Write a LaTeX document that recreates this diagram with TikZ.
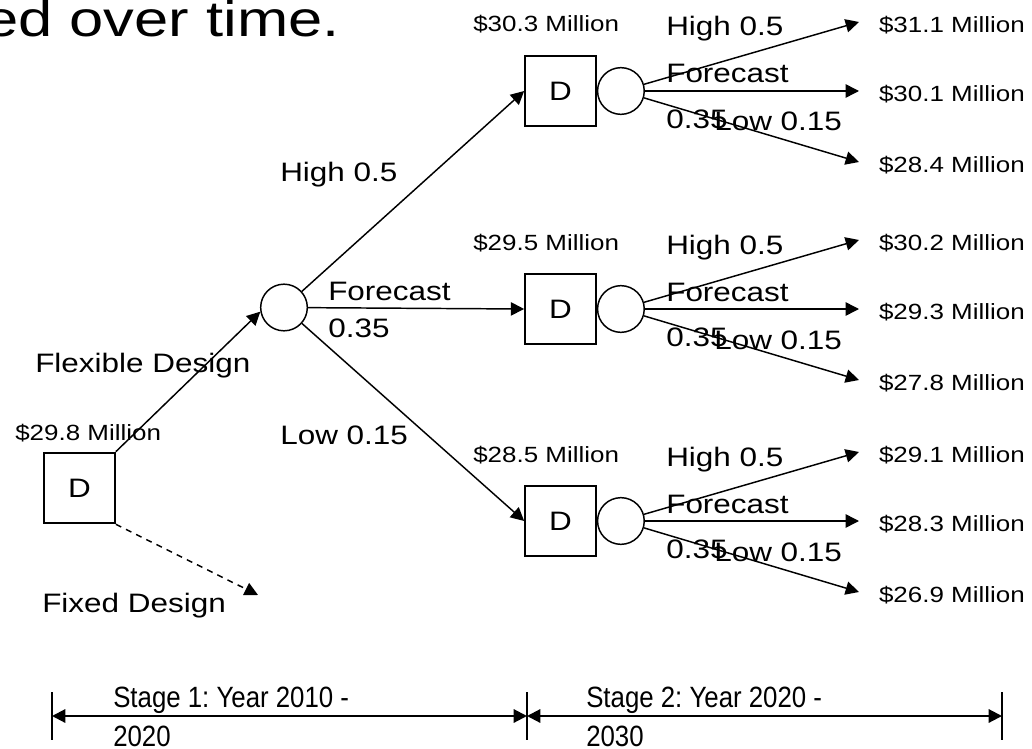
\documentclass[tikz,border=0pt]{standalone}
\usepackage{fontspec}
\setmainfont{Liberation Sans}[FakeStretch=1.18]
\newfontfamily\titlefont{Liberation Sans}[FakeStretch=1.23]
\newfontfamily\stagefont{Liberation Sans}[FakeStretch=0.88]
\usetikzlibrary{arrows.meta,positioning}
\tikzset{>={Triangle[length=10pt,width=10pt]}}
\frenchspacing

\begin{document}
\begin{tikzpicture}[x=0.75pt,y=-0.75pt,
  decision/.style={draw,line width=1.5pt,minimum width=53pt,minimum height=53pt,inner sep=0pt,font=\fontsize{20}{24}\selectfont},
  chance/.style={draw,circle,line width=1.1pt,minimum size=35pt,inner sep=0pt},
  lab/.style={anchor=base west,inner sep=0pt,font=\fontsize{20}{24}\selectfont},
  stagelab/.style={anchor=base west,inner sep=0pt,font=\stagefont\fontsize{22}{26}\selectfont},
  val/.style={anchor=base west,inner sep=0pt,font=\fontsize{16.5}{20}\selectfont},
  outcome/.style={anchor=west,inner sep=0pt,outer xsep=15pt,text height=16pt,text depth=0pt,font=\fontsize{16.5}{20}\selectfont},
  branch/.style={->,line width=1.1pt}]
\useasboundingbox (0,0) rectangle (1032,749);

% title (cut at the left)
\node[anchor=base east,inner sep=0pt,font=\titlefont\fontsize{37.5}{40}\selectfont] (title) at (340,37) {ed over time.};

% stage 1
\node[decision] (d1) at (79.5,488) {D};
\node[val] (v1) at (15,440) {\$29.8 Million};
\node[chance] (c1) at (284,307.5) {};
\coordinate (fx) at (258,595);
\draw[branch] (d1.north east) -- (c1.190);
\draw[branch,dash pattern=on 4.5pt off 4pt] (d1.south east) -- (fx);
\node[lab] (flex) at (35,372) {Flexible Design};
\node[lab] (fixed) at (42,612) {Fixed Design};

\node[decision] (d2a) at (560.5,91) {D};
\node[decision] (d2b) at (560.5,309) {D};
\node[decision] (d2c) at (560.5,521) {D};
\draw[branch] (c1) -- (d2a.west);
\draw[branch] (c1) -- (d2b.west);
\draw[branch] (c1) -- (d2c.west);
\node[lab] (h1) at (280,181) {High 0.5};
\node[lab] (f1) at (328,300) {Forecast};
\node[lab] (p1) at (328,337) {0.35};
\node[lab] (l1) at (280,444) {Low 0.15};

% stage 2
\node[chance,right=0pt of d2a] (c2a) {};
\node[chance,right=0pt of d2b] (c2b) {};
\node[chance,right=0pt of d2c] (c2c) {};

\node[outcome] (o1) at (859,22) {\$31.1 Million};
\node[outcome] (o2) at (859,91) {\$30.1 Million};
\node[outcome] (o3) at (859,162) {\$28.4 Million};
\node[outcome] (o4) at (859,240) {\$30.2 Million};
\node[outcome] (o5) at (859,309) {\$29.3 Million};
\node[outcome] (o6) at (859,380) {\$27.8 Million};
\node[outcome] (o7) at (859,452) {\$29.1 Million};
\node[outcome] (o8) at (859,521) {\$28.3 Million};
\node[outcome] (o9) at (859,592) {\$26.9 Million};

\draw[branch] (c2a) -- (o1.west);
\draw[branch] (c2a) -- (o2.west);
\draw[branch] (c2a) -- (o3.west);
\draw[branch] (c2b) -- (o4.west);
\draw[branch] (c2b) -- (o5.west);
\draw[branch] (c2b) -- (o6.west);
\draw[branch] (c2c) -- (o7.west);
\draw[branch] (c2c) -- (o8.west);
\draw[branch] (c2c) -- (o9.west);

\node[val] (v2a) at (473,32) {\$30.3 Million};
\node[lab] (h2a) at (666,36) {High 0.5};
\node[lab] (f2a) at (666,83) {Forecast};
\node[lab] (p2a) at (666,128) {0.35};
\node[lab] (l2a) at (714,131) {Low 0.15};

\node[val] (v2b) at (473,250) {\$29.5 Million};
\node[lab] (h2b) at (666,254) {High 0.5};
\node[lab] (f2b) at (666,301) {Forecast};
\node[lab] (p2b) at (666,346) {0.35};
\node[lab] (l2b) at (714,349) {Low 0.15};

\node[val] (v2c) at (473,462) {\$28.5 Million};
\node[lab] (h2c) at (666,466) {High 0.5};
\node[lab] (f2c) at (666,513) {Forecast};
\node[lab] (p2c) at (666,558) {0.35};
\node[lab] (l2c) at (714,561) {Low 0.15};

% time line
\coordinate (s0) at (52,716);
\coordinate (s1) at (527,716);
\coordinate (s2) at (1002,716);
\draw[line width=1.6pt,<->] (s0) -- (s1);
\draw[line width=1.6pt,<->] (s1) -- (s2);
\draw[line width=1.4pt] (s0) ++(0,-24) -- ++(0,48);
\draw[line width=1.4pt] (s1) ++(0,-24) -- ++(0,48);
\draw[line width=1.4pt] (s2) ++(0,-24) -- ++(0,48);
\node[stagelab] (st1) at (113,707) {Stage 1: Year 2010 -};
\node[stagelab] (st1b) at (113,746) {2020};
\node[stagelab] (st2) at (586,707) {Stage 2: Year 2020 -};
\node[stagelab] (st2b) at (586,746) {2030};
\end{tikzpicture}
\end{document}
